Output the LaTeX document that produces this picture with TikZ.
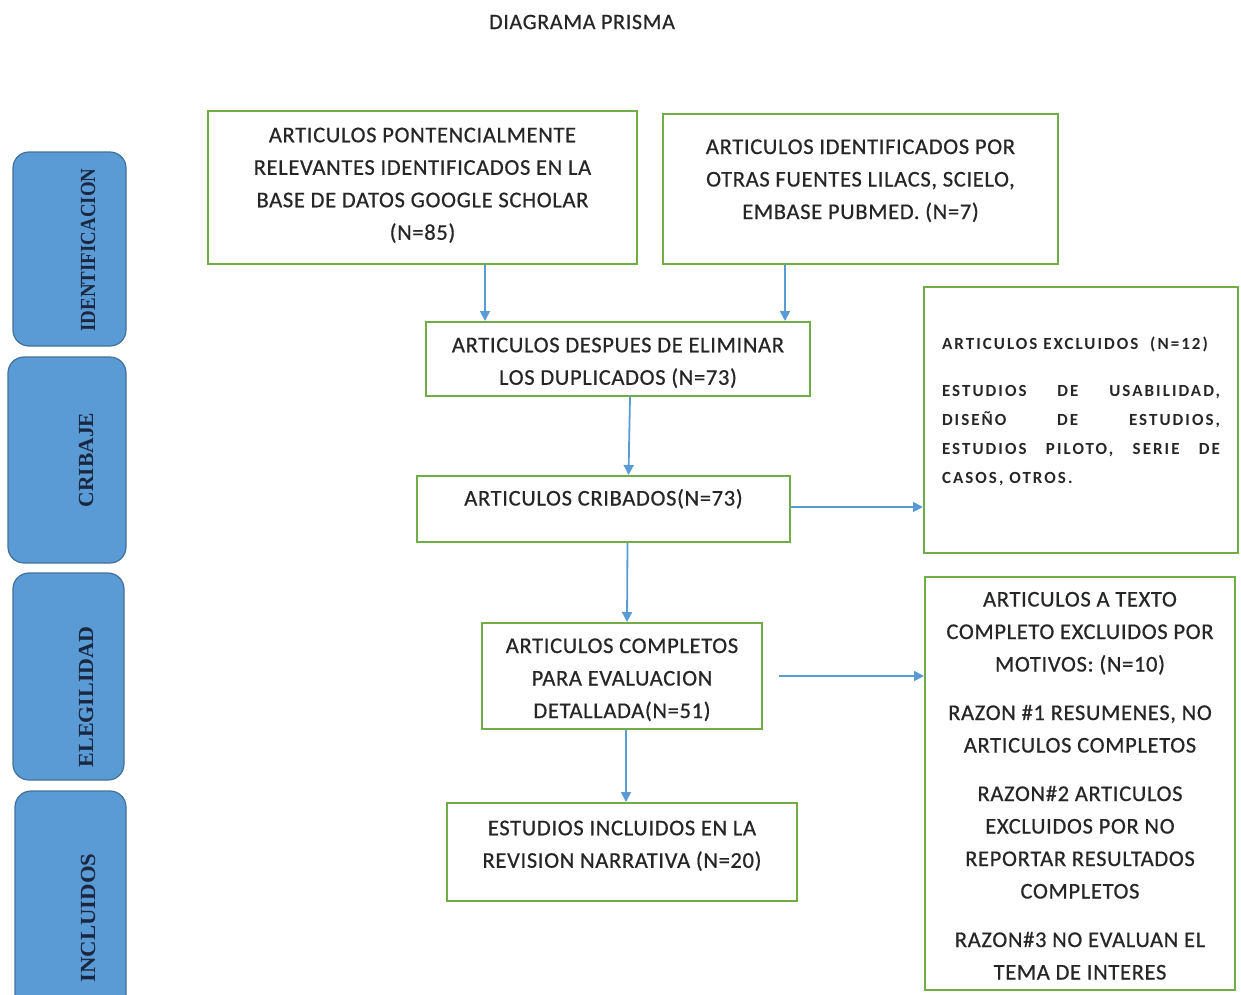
\documentclass[tikz,border=0pt]{standalone}
\usepackage{fontspec}
\setmainfont{Carlito}[LetterSpace=3,FakeBold=0.6]
\newfontfamily\sidefont{Liberation Serif}
\newfontfamily\exfont{Carlito}[LetterSpace=12]
\usetikzlibrary{arrows.meta}
\definecolor{boxgreen}{HTML}{70AD47}
\definecolor{arrowblue}{HTML}{5B9BD5}
\definecolor{sidefill}{HTML}{5B9BD5}
\definecolor{sidedraw}{HTML}{41719C}
\definecolor{sidetext}{HTML}{1A2740}
\definecolor{maintext}{HTML}{262626}
\newcommand{\uptext}[2]{\raisebox{#1}[\height][\depth]{\begin{tabular}{@{}c@{}}#2\end{tabular}}}
\begin{document}
\begin{tikzpicture}[x=1pt,y=-1pt,
  box/.style={draw=boxgreen, line width=2pt, fill=white, text=maintext,
    font=\fontsize{22.5}{32.5}\selectfont, inner sep=0pt},
  arr/.style={draw=arrowblue, line width=1.8pt, -{Triangle[width=10pt,length=10pt]}},
  side/.style={draw=sidedraw, fill=sidefill, line width=1.2pt, rounded corners=16pt, inner sep=0pt},
  sidelabel/.style={rotate=90, text=sidetext, inner sep=0pt,
    font=\fontsize{21.5}{22}\sidefont\bfseries}
]
\useasboundingbox (0,0) rectangle (1241,994);

% title
\node[text=maintext, font=\fontsize{22}{24}\selectfont] (title) at (582,22) {DIAGRAMA PRISMA};

% side bars
\node[side, minimum width=113, minimum height=194] (s1) at (69.5,249) {};
\node[side, minimum width=118, minimum height=206] (s2) at (67,460) {};
\node[side, minimum width=111, minimum height=207] (s3) at (68.5,676.5) {};
\node[side, minimum width=111, minimum height=230] (s4) at (70.5,906) {};
\node[sidelabel] (l1) at (88,250) {\scalebox{0.88}[1]{IDENTIFICACION}};
\node[sidelabel] (l2) at (86,460) {\scalebox{1.0}[1]{CRIBAJE}};
\node[sidelabel] (l3) at (86,697) {\scalebox{1.02}[1]{ELEGILIDAD}};
\node[sidelabel] (l4) at (88,918) {\scalebox{1.06}[1]{INCLUIDOS}};

% main boxes
\node[box, minimum width=429, minimum height=153] (A) at (422.5,187.5)
  {\uptext{3pt}{ARTICULOS PONTENCIALMENTE\\RELEVANTES IDENTIFICADOS EN LA\\BASE DE DATOS GOOGLE SCHOLAR\\(N=85)}};
\node[box, minimum width=395, minimum height=150] (B) at (860.5,189)
  {\uptext{9pt}{ARTICULOS IDENTIFICADOS POR\\OTRAS FUENTES LILACS, SCIELO,\\EMBASE PUBMED. (N=7)}};
\node[box, minimum width=384, minimum height=74] (C) at (618,359)
  {\uptext{-3pt}{ARTICULOS DESPUES DE ELIMINAR\\LOS DUPLICADOS (N=73)}};
\node[box, minimum width=373, minimum height=66] (D) at (603.5,509)
  {\uptext{10pt}{ARTICULOS CRIBADOS(N=73)}};
\node[box, minimum width=280, minimum height=106] (F) at (622,676)
  {\uptext{-3pt}{ARTICULOS COMPLETOS\\PARA EVALUACION\\DETALLADA(N=51)}};
\node[box, minimum width=350, minimum height=98] (G) at (622,852)
  {\uptext{7pt}{ESTUDIOS INCLUIDOS EN LA\\REVISION NARRATIVA (N=20)}};
\node[box, minimum width=310, minimum height=413] (H) at (1080,783.5)
  {\uptext{-3pt}{ARTICULOS A TEXTO\\COMPLETO EXCLUIDOS POR\\MOTIVOS: (N=10)\\[16pt]
   RAZON \#1 RESUMENES, NO\\ARTICULOS COMPLETOS\\[16pt]
   RAZON\#2 ARTICULOS\\EXCLUIDOS POR NO\\REPORTAR RESULTADOS\\COMPLETOS\\[16pt]
   RAZON\#3 NO EVALUAN EL\\TEMA DE INTERES}};
\node[box, anchor=north west, minimum width=314, minimum height=266,
  font=\exfont\bfseries\fontsize{17}{29}\selectfont] (E) at (923,286)
  {\begin{minipage}[t][262pt][t]{278pt}\hyphenpenalty=10000
   \vspace*{48pt}%
   \noindent ARTICULOS EXCLUIDOS\ \ (N=12)\par
   \vspace{18pt}%
   ESTUDIOS DE USABILIDAD,\linebreak DISEÑO DE ESTUDIOS,\linebreak ESTUDIOS PILOTO, SERIE DE\linebreak CASOS, OTROS.
   \end{minipage}};

% connectors
\coordinate (xa) at (485,0);
\coordinate (xb) at (785,0);
\coordinate (fh) at (779,676);
\coordinate (de) at ([yshift=2pt]D.east);
\draw[arr] (A.south -| xa) -- (C.north -| xa);
\draw[arr] (B.south -| xb) -- (C.north -| xb);
\draw[arr] ([xshift=12pt]C.south) -- ([xshift=25pt]D.north);
\draw[arr] (de) -- (E.west |- de);
\draw[arr] ([xshift=24pt]D.south) -- ([xshift=5pt]F.north);
\draw[arr] (fh) -- (H.west |- fh);
\draw[arr] ([xshift=4pt]F.south) -- ([xshift=4pt]G.north);
\end{tikzpicture}
\end{document}
